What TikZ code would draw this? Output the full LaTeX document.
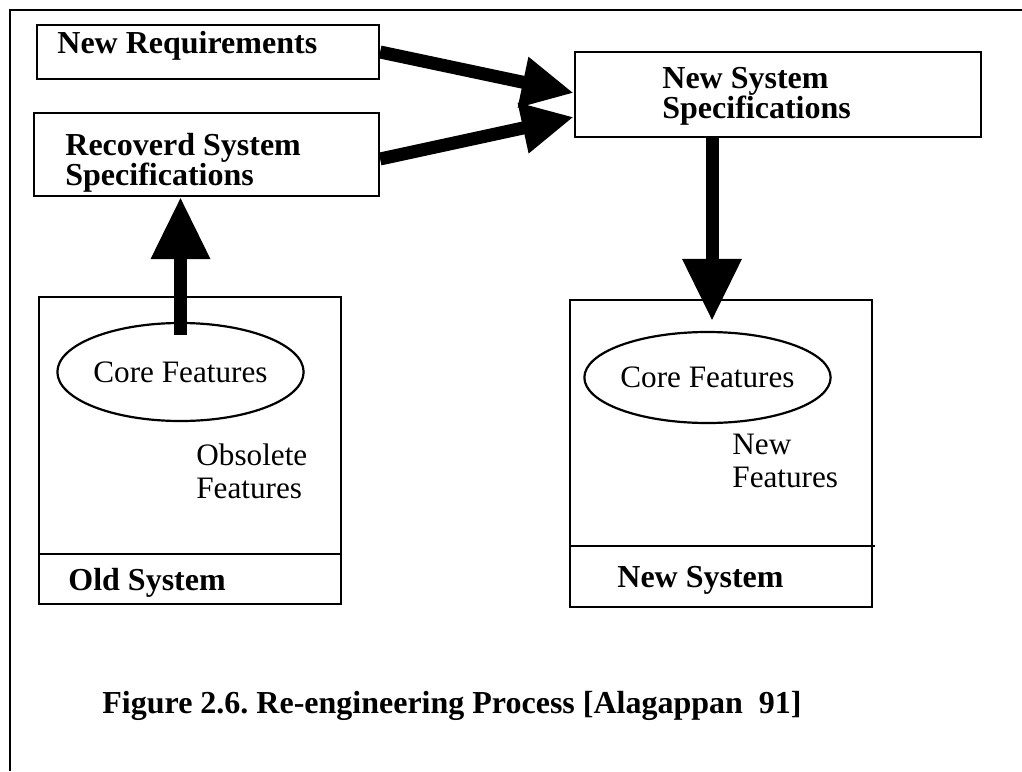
\documentclass[tikz,border=0pt]{standalone}
\usepackage{fontspec}
\setmainfont{Liberation Serif}
\usetikzlibrary{arrows.meta,shapes.geometric}

\begin{document}
\begin{tikzpicture}[x=0.5pt,y=-0.5pt,>={Triangle[length=31pt,width=28pt]},
                    box/.style={rectangle,draw,line width=1.1pt,inner sep=0pt},
                    core/.style={ellipse,draw,line width=1.1pt,inner sep=0pt,
                                 font=\fontsize{15.6pt}{16pt}\selectfont},
                    head/.style={anchor=base west,inner sep=0pt,align=left,
                                 font=\frenchspacing\bfseries\fontsize{16pt}{15pt}\selectfont},
                    note/.style={anchor=base west,inner sep=0pt,align=left,
                                 font=\fontsize{15.6pt}{16.5pt}\selectfont},
                    big arrow/.style={->,line width=6.5pt},
                    side arrow/.style={-{Triangle[length=26pt,width=24pt]},line width=6.5pt}]
  \useasboundingbox (0,0) rectangle (1022,771);
  % frame
  \draw[line width=1pt] (10,771) -- (10,10) -- (1022,10);
  % boxes
  \node[box,minimum width=171pt,minimum height=27pt] (newreq) at (208,52) {};
  \node[box,minimum width=172.5pt,minimum height=41.5pt] (recov) at (206.5,154.5) {};
  \node[box,minimum width=203pt,minimum height=42.5pt] (nss) at (778,94.5) {};
  \node[box,minimum width=151pt,minimum height=153.5pt] (oldsys) at (190,450.5) {};
  \node[box,minimum width=151pt,minimum height=153.5pt] (newsys) at (721,453.5) {};
  \draw[line width=1.1pt] (39,554) -- (341,554);
  \draw[line width=1.1pt] (570,546) -- (875,546);
  \node[core,minimum width=97.5pt,minimum height=49pt] (corel) at (180.5,372) {Core Features};
  \node[core,minimum width=100.5pt,minimum height=45.5pt] (corer) at (707.5,377.5) {Core Features};
  % labels (two-line ones sit on their last baseline)
  \node[head] (reqtext) at (57,53) {New Requirements};
  \node[head] (recovtext) at (65,185) {Recoverd System\\Specifications};
  \node[head] (nsstext) at (662,118) {New System\\Specifications};
  \node[note] (obsolete) at (196,498) {Obsolete\\Features};
  \node[note] (newfeat) at (732,487) {New\\Features};
  \node[head] (oldtext) at (68,590) {Old System};
  \node[head] (newtext) at (617,587) {New System};
  \node[head] (caption) at (102,713) {Figure 2.6. Re-engineering Process [Alagappan\ \ 91]};
  % arrows
  \coordinate (newtip) at ([xshift=-4.5pt,yshift=-11pt]newsys.north);
  \path[side arrow]
    (newreq.east) edge ([yshift=0.75pt]nss.west)
    ([yshift=-2.25pt]recov.east) edge ([yshift=-11.25pt]nss.west);
  \path[big arrow]
    ([yshift=-6.5pt]corel.north) edge (corel.north |- recov.south)
    (nss.south -| newtip) edge (newtip);
\end{tikzpicture}
\end{document}
